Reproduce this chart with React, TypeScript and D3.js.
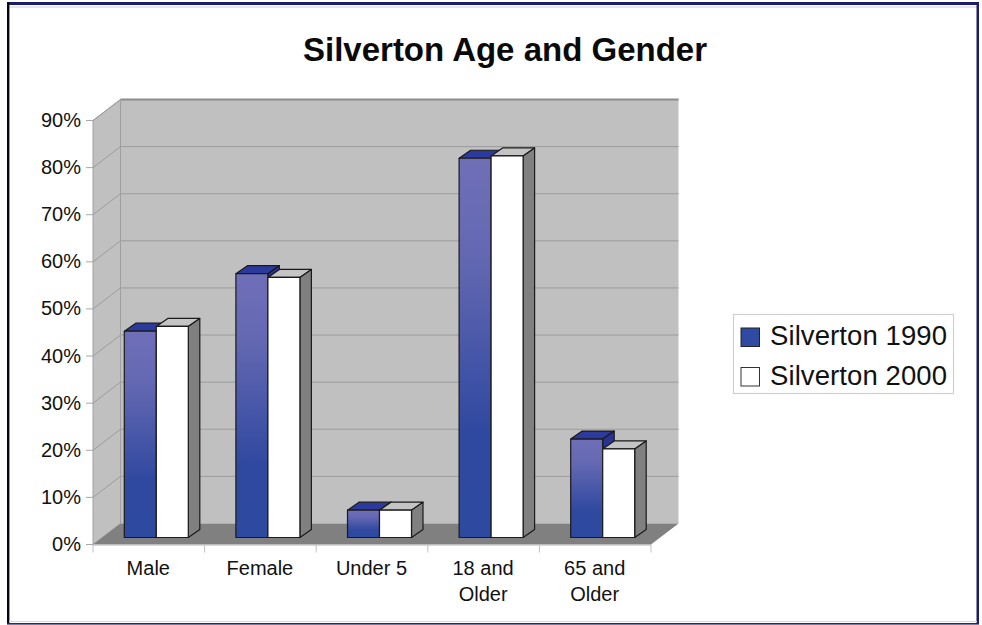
import React from "react";
import * as d3 from "d3";

const categories = ["Male", "Female", "Under 5", "18 and|Older", "65 and|Older"];
const series1990 = [43.8, 56.0, 5.8, 80.5, 20.9];
const series2000 = [44.8, 55.2, 5.8, 81.0, 18.8];
const seriesNames = ["Silverton 1990", "Silverton 2000"];
const yTicks = [0, 10, 20, 30, 40, 50, 60, 70, 80, 90];
const title = "Silverton Age and Gender";

const FONT = "'Liberation Sans', Arial, sans-serif";
const W = 982, H = 625;
// oblique projection: front floor edge, wall depth, bar depth
const x0 = 93, x1 = 651, yZero = 544.5, yTop = 120.5;
const wallDx = 27.5, wallDy = -21;
const barInsetDx = 9.5, barInsetDy = -7;
const barDx = 11.5, barDy = -8;

const y = d3.scaleLinear().domain([0, 90]).range([yZero, yTop]);
const x = d3.scaleBand<number>().domain(d3.range(categories.length)).range([x0, x1]);
const barW = 32;

const poly = (pts: number[][]) => pts.map((p) => p.join(",")).join(" ");

function Bar({ left, v, fill, top, side }: { left: number; v: number; fill: string; top: string; side: string }) {
  const b = y(0) + barInsetDy;
  const t = y(v) + barInsetDy;
  const r = left + barW;
  return (
    <g stroke="#1a1a1a" strokeWidth={1.2} strokeLinejoin="round">
      <polygon points={poly([[left, t], [r, t], [r + barDx, t + barDy], [left + barDx, t + barDy]])} fill={top} />
      <polygon points={poly([[r, t], [r + barDx, t + barDy], [r + barDx, b + barDy], [r, b]])} fill={side} />
      <rect x={left} y={t} width={barW} height={b - t} fill={fill} />
    </g>
  );
}

export default function App() {
  return (
    <svg width={W} height={H} viewBox={`0 0 ${W} ${H}`} style={{ position: "absolute", left: 0, top: 0, background: "#fff" }} fontFamily={FONT}>
      <defs>
        <linearGradient id="blueGrad" x1="0" y1="0" x2="0" y2="1">
          <stop offset="0" stopColor="#6f6fb8" />
          <stop offset="0.25" stopColor="#6468b2" />
          <stop offset="0.72" stopColor="#3049a0" />
          <stop offset="1" stopColor="#2e49a0" />
        </linearGradient>
      </defs>

      {/* frame */}
      <rect x={0} y={0} width={W} height={H} fill="#fff" />
      <rect x={7} y={2} width={971} height={3} fill="#1c1c6b" />
      <line x1={9} y1={7} x2={977} y2={7} stroke="#cfcfd6" strokeWidth={1} />
      <rect x={7} y={2} width={2.4} height={622} fill="#050510" />
      <rect x={976.5} y={2} width={2.5} height={622} fill="#1c1c6b" />
      <rect x={7} y={623} width={972} height={1.6} fill="#26266f" />
      <line x1={9} y1={621.5} x2={977} y2={621.5} stroke="#d8d8de" strokeWidth={1} />

      <text x={505} y={61} textAnchor="middle" fontSize={33} fontWeight={700} fill="#0a0a0a">{title}</text>

      {/* walls */}
      <polygon points={poly([[x0, y(0)], [x0, y(90)], [x0 + wallDx, y(90) + wallDy], [x0 + wallDx, y(0) + wallDy]])} fill="#c0c0c0" stroke="#a0a0a0" strokeWidth={1} />
      <rect x={x0 + wallDx} y={y(90) + wallDy} width={x1 - x0} height={y(0) - y(90)} fill="#c0c0c0" />
      <polygon points={poly([[x0, y(0)], [x1, y(0)], [x1 + wallDx, y(0) + wallDy], [x0 + wallDx, y(0) + wallDy]])} fill="#808080" />

      {/* gridlines */}
      {yTicks.map((t) => (
        <g key={t} fill="none" strokeWidth={1}>
          <polyline points={poly([[x0, y(t)], [x0 + wallDx, y(t) + wallDy], [x1 + wallDx, y(t) + wallDy]])} stroke={t === 0 ? "none" : "#9c9c9c"} />
          <line x1={x0 - 7} x2={x0} y1={y(t)} y2={y(t)} stroke="#a8a8a8" />
        </g>
      ))}
      <line x1={x0 + wallDx} x2={x1 + wallDx} y1={y(90) + wallDy} y2={y(90) + wallDy} stroke="#8c8c8c" strokeWidth={2} />
      <line x1={x0 + wallDx} x2={x0 + wallDx} y1={y(90) + wallDy} y2={y(0) + wallDy} stroke="#a0a0a0" strokeWidth={1} />

      {/* x axis */}
      <line x1={x0} x2={x1} y1={y(0) + 0.5} y2={y(0) + 0.5} stroke="#b4b4b4" />
      {[...x.domain(), categories.length].map((i) => {
        const xt = i === categories.length ? x1 : (x(i) as number);
        return <line key={i} x1={xt} x2={xt} y1={y(0)} y2={y(0) + 8} stroke="#c0c0c0" />;
      })}

      {yTicks.map((t) => (
        <text key={t} x={81} y={y(t) + 6.5} textAnchor="end" fontSize={20} fill="#111">{t}%</text>
      ))}

      {/* bars */}
      {categories.map((c, i) => {
        const mid = (x(i) as number) + x.bandwidth() / 2 + barInsetDx - 2;
        const lines = c.split("|");
        return (
          <g key={c}>
            <Bar left={mid - barW} v={series1990[i]} fill="url(#blueGrad)" top="#2b3a9c" side="#2b3391" />
            <Bar left={mid} v={series2000[i]} fill="#ffffff" top="#c4c4c4" side="#808080" />
            {lines.map((l, k) => (
              <text key={l} x={(x(i) as number) + x.bandwidth() / 2 - 0.5} y={575 + k * 26} textAnchor="middle" fontSize={20} fill="#111">{l}</text>
            ))}
          </g>
        );
      })}

      {/* legend */}
      <rect x={733.5} y={314.5} width={220} height={79} fill="#fff" stroke="#d0d0d0" strokeWidth={1.2} />
      <rect x={741} y={328} width={18.5} height={18.5} fill="#2f4aa2" stroke="#222" strokeWidth={1} />
      <rect x={741} y={367.5} width={18.5} height={18.5} fill="#fff" stroke="#333" strokeWidth={1} />
      {seriesNames.map((n, i) => (
        <text key={n} x={770} y={345 + i * 39.5} fontSize={27.5} fill="#111" textLength={177} lengthAdjust="spacing">{n}</text>
      ))}
    </svg>
  );
}
